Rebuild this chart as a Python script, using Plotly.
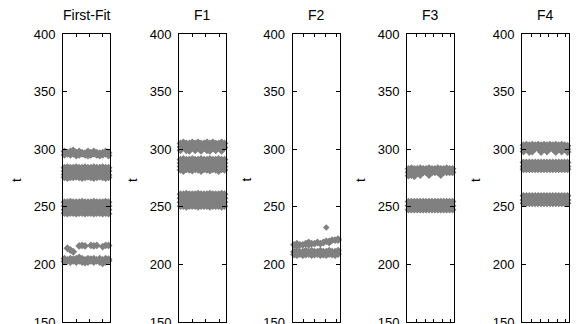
import plotly.graph_objects as go

# Start times t of jobs, sampled across job index, for each placement strategy
panel_names = ["First-Fit", "F1", "F2", "F3", "F4"]
jobs = list(range(1, 17))

first_fit_rows = [
    [298, 297, 298, 299, 297, 298, 297, 296.5, 298, 297, 298, 297, 296.5, 297, 298, 297],
    [295, 296, 295, 296, 294.5, 295, 296, 295, 294.5, 295, 296, 295, 294.5, 295, 296, 294.5],
    [284, 284.5, 284, 284, 284.5, 284, 284, 284.5, 284, 284, 284.5, 284, 284, 284.5, 284, 284],
    [281, 281, 280.5, 281, 281, 281, 280.5, 281, 281, 281, 281, 280.5, 281, 281, 281, 281],
    [278, 277.5, 278, 278, 277.5, 278, 278, 278, 277.5, 278, 278, 278, 277.5, 278, 278, 277.5],
    [275.5, 275, 275.5, 275.5, 276, 275.5, 275, 275.5, 276, 275.5, 275, 275.5, 276, 275.5, 275, 275.5],
    [254, 254, 254.5, 254, 254, 254, 254.5, 254, 254, 254, 254.5, 254, 254, 254, 254.5, 254],
    [250.8, 250.8, 250.8, 250.8, 250.8, 250.8, 250.8, 250.8, 250.8, 250.8, 250.8, 250.8, 250.8, 250.8, 250.8, 250.8],
    [247.5, 247.5, 247.5, 247.5, 247.5, 247.5, 247.5, 247.5, 247.5, 247.5, 247.5, 247.5, 247.5, 247.5, 247.5, 247.5],
    [244.5, 244, 244.5, 244.5, 244, 244.5, 244.5, 244, 244.5, 244.5, 244, 244.5, 244.5, 244, 244.5, 244],
    [None, 214, 212.5, 211, None, 216, 216.5, 216, None, 216.5, 216, 216.5, None, 215.5, 216.5, 216.5],
    [205, 204, 205, 204.5, 205, 206, 205, 204, 205, 204.5, 205, 204, 205, 204, 205, 204.5],
    [202.5, 203, 202, 203, 202, 203, 202, 201.5, 202, 203, 202, 203, 202, 201, 202, 203],
]

f1_rows = [
    [305, 306, 305, 305, 306, 305, 306, 305, 305, 306, 305, 306, 305, 305, 306, 305],
    [302, 302, 301.5, 302, 302, 302.5, 302, 302, 301.5, 302, 302, 301.5, 302, 302, 302, 301.5],
    [299, None, 299, 298.5, None, 299, None, 298.5, None, 299, 298.5, None, 299, None, 298.5, None],
    [291, 291.5, 291, 291, 291.5, 291, 291, 291.5, 291, 291, 291.5, 291, 291, 291.5, 291, 291],
    [288, 288, 288, 288, 288, 288, 288, 288, 288, 288, 288, 288, 288, 288, 288, 288],
    [285, 285, 284.5, 285, 285, 285, 284.5, 285, 285, 285, 284.5, 285, 285, 285, 284.5, 285],
    [282, 281, 282.5, 282, 281.5, 282.5, 282, 281, 282.5, 282, 281.5, 282.5, 282, 281, 282.5, 282],
    [261, 261, 261.5, 261, 261, 261, 261.5, 261, 261, 261, 261.5, 261, 261, 261, 261.5, 261],
    [257.5, 257.5, 257.5, 257.5, 257.5, 257.5, 257.5, 257.5, 257.5, 257.5, 257.5, 257.5, 257.5, 257.5, 257.5, 257.5],
    [254, 254, 254, 254, 254, 254, 254, 254, 254, 254, 254, 254, 254, 254, 254, 254],
    [250.5, 250.5, 250, 250.5, 250.5, 250.5, 250, 250.5, 250.5, 250.5, 250, 250.5, 250.5, 250.5, 250, 250.5],
]

f2_rows = [
    [217, 218, None, 217, 218, 219, None, 218, 219, None, 219, 220, 219, None, 221, 222],
    [None, 216, 217, None, None, 217, 218, None, None, 218, None, None, 220, 221, None, 221],
    [211, 212, 211, 211, 212, 211, 212, 211, 211, 212, 211, 211, 212, 211, 211, 212],
    [208.5, 208, 209, 208, 208.5, 209, 208, 208.5, 209, 208, 208.5, 208, 209, 208.5, 208, 209],
]
f2_outlier_job = [12]
f2_outlier_t = [232]

f3_rows = [
    [283, 283.5, 283, 283, 283.5, 283, 283, 283.5, 283, 283, 283.5, 283, 283, 283.5, 283, 283],
    [280, 280, 280, 280, 280, 280, 280, 280, 280, 280, 280, 280, 280, 280, 280, 280],
    [277, 277.5, 276.5, None, 277.5, None, None, 277.5, None, None, None, 277.5, None, None, None, None],
    [254.5, 254.5, 254.5, 254.5, 254.5, 254.5, 254.5, 254.5, 254.5, 254.5, 254.5, 254.5, 254.5, 254.5, 254.5, 254.5],
    [251, 251, 251, 251, 251, 251, 251, 251, 251, 251, 251, 251, 251, 251, 251, 251],
    [247.5, 247.5, 247.5, 247.5, 247.5, 247.5, 247.5, 247.5, 247.5, 247.5, 247.5, 247.5, 247.5, 247.5, 247.5, 247.5],
]

f4_rows = [
    [303.5, 304, 303.5, 304, 303.5, 304, 303.5, 304, 303.5, 304, 303.5, 304, 303.5, 304, 303.5, 303],
    [300.5, 300.5, 300, 300.5, 300.5, 300.5, 300, 300.5, 300.5, 300.5, 300, 300.5, 300.5, 300.5, 300, 300],
    [298, None, 297.5, 298, None, None, 297.5, None, 298, None, None, 297.5, None, 298, None, 297.5],
    [288.5, 288.5, 288.5, 288.5, 288.5, 288.5, 288.5, 288.5, 288.5, 288.5, 288.5, 288.5, 288.5, 288.5, 288.5, 288.5],
    [285, 285, 285, 285, 285, 285, 285, 285, 285, 285, 285, 285, 285, 285, 285, 285],
    [282.5, 282.5, 282.5, 282.5, 282.5, 282.5, 282.5, 282.5, 282.5, 282.5, 282.5, 282.5, 282.5, 282.5, 282.5, 282.5],
    [259.5, 259.5, 259.5, 259.5, 259.5, 259.5, 259.5, 259.5, 259.5, 259.5, 259.5, 259.5, 259.5, 259.5, 259.5, 259.5],
    [256, 256, 256, 256, 256, 256, 256, 256, 256, 256, 256, 256, 256, 256, 256, 256],
    [253, 253, 253, 253, 253, 253, 253, 253, 253, 253, 253, 253, 253, 253, 253, 253],
]

# x tick marks (unlabelled) per panel, in job-index units
x_ticks = [
    [5.0, 9.6, 14.0],
    [5.1, 9.5, 14.4],
    [4.2, 7.9, 11.7, 15.4],
    [3.9, 6.7, 9.5, 12.5, 15.4],
    [3.9, 6.7, 9.5, 12.5, 15.4],
]
y_ticks = [150, 200, 250, 300, 350, 400]

W, H = 577, 324
M_TOP, M_BOT = 34, 2
panel_left = [63, 179, 292.5, 407, 522]
panel_w = 47
grey = "#808080"
font_family = "Liberation Sans, Arial, sans-serif"

all_rows = [first_fit_rows, f1_rows, f2_rows, f3_rows, f4_rows]

fig = go.Figure()
for i, rows in enumerate(all_rows):
    suffix = "" if i == 0 else str(i + 1)
    for row in rows:
        fig.add_trace(go.Scatter(
            x=jobs, y=row, mode="markers",
            marker=dict(symbol="diamond", size=6, color=grey, line=dict(width=0)),
            xaxis="x" + suffix, yaxis="y" + suffix,
            cliponaxis=False, showlegend=False, hoverinfo="skip",
        ))
    if i == 2:
        fig.add_trace(go.Scatter(
            x=f2_outlier_job, y=f2_outlier_t, mode="markers",
            marker=dict(symbol="diamond", size=5, color=grey, line=dict(width=0)),
            xaxis="x3", yaxis="y3", cliponaxis=False, showlegend=False, hoverinfo="skip",
        ))

layout = dict(
    width=W, height=H,
    margin=dict(l=0, r=0, t=M_TOP, b=M_BOT, autoexpand=False),
    paper_bgcolor="white", plot_bgcolor="white",
    font=dict(family=font_family, size=13, color="black"),
)
annotations = []
for i in range(5):
    suffix = "" if i == 0 else str(i + 1)
    x0 = panel_left[i] / W
    x1 = (panel_left[i] + panel_w) / W
    layout["xaxis" + suffix] = dict(
        domain=[x0, x1], range=[0.5, 16.5], anchor="y" + suffix, automargin=False,
        showgrid=False, zeroline=False, showline=True, linecolor="black", linewidth=1,
        mirror="ticks", ticks="inside", ticklen=3, tickcolor="black",
        tickvals=x_ticks[i], showticklabels=False, fixedrange=True,
    )
    layout["yaxis" + suffix] = dict(
        domain=[0, 1], range=[150, 400], anchor="x" + suffix, automargin=False,
        showgrid=False, zeroline=False, showline=True, linecolor="black", linewidth=1,
        mirror="ticks", ticks="inside", ticklen=4, tickcolor="black",
        tickvals=y_ticks, ticklabelstandoff=4, ticklabeloverflow="allow",
        tickfont=dict(family=font_family, size=13, color="black"), fixedrange=True,
    )
    annotations.append(dict(
        text=panel_names[i], xref="paper", yref="paper",
        x=(x0 + x1) / 2, y=1 + (M_TOP - 15) / (H - M_TOP - M_BOT),
        xanchor="center", yanchor="middle", showarrow=False,
        font=dict(family=font_family, size=14, color="black"),
    ))
    annotations.append(dict(
        text="t", xref="paper", yref="paper", textangle=-90,
        x=(panel_left[i] - 47) / W, y=1 - (180 - M_TOP) / (H - M_TOP - M_BOT),
        xanchor="center", yanchor="middle", showarrow=False,
        font=dict(family=font_family, size=13, color="black"),
    ))
layout["annotations"] = annotations
fig.update_layout(**layout)

fig.write_html("out.html")
